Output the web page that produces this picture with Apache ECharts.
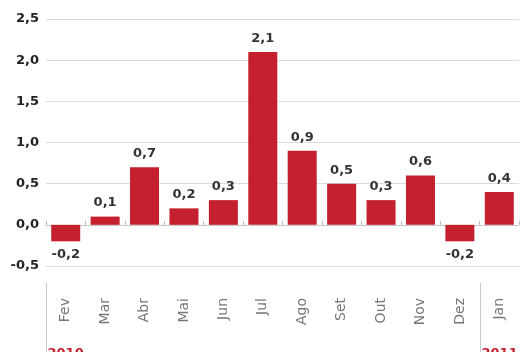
<!DOCTYPE html>
<html lang="pt">
<head>
  <meta charset="UTF-8">
  <title>Variação mensal</title>
  <script src="https://cdn.jsdelivr.net/npm/echarts@6/dist/echarts.min.js"></script>
  <style>
    html, body { margin: 0; padding: 0; background: #fff; }
    #chart { width: 530px; height: 352px; }
  </style>
</head>
<body>
  <div id="chart"></div>
</body>
</html>
<script>
  // dados
  var months = ['Fev', 'Mar', 'Abr', 'Mai', 'Jun', 'Jul', 'Ago', 'Set', 'Out', 'Nov', 'Dez', 'Jan']
  var values = [-0.2, 0.1, 0.7, 0.2, 0.3, 2.1, 0.9, 0.5, 0.3, 0.6, -0.2, 0.4]
  var years = ['2010', '2011']
  var yearStart = [0, 11] // índice do primeiro mês de cada ano

  var red = '#c5202d'
  var font = 'DejaVu Sans, Arial, sans-serif'
  var fmt = function (v) { return v.toFixed(1).replace('.', ',') }

  var chart = echarts.init(document.getElementById('chart'))

  chart.setOption({
    animation: false,
    textStyle: { fontFamily: font },
    grid: { left: 46, right: 11, top: 19, bottom: 86 },
    xAxis: [
      { // linha do zero
        type: 'category',
        position: 'bottom',
        data: months,
        axisLine: { onZero: true, lineStyle: { color: '#c8c8c8' } },
        axisTick: { show: true, inside: true, length: 4, lineStyle: { color: '#bbb' } },
        axisLabel: { show: false }
      },
      { // rótulos dos meses
        type: 'category',
        position: 'bottom',
        offset: 17,
        data: months,
        axisLine: { show: false, onZero: false },
        axisTick: { show: false },
        axisLabel: {
          rotate: 90,
          margin: 15,
          fontSize: 14,
          color: '#777'
        }
      }
    ],
    yAxis: {
      type: 'value',
      min: -0.5,
      max: 2.5,
      interval: 0.5,
      axisLine: { show: false },
      axisTick: { show: false },
      splitLine: { lineStyle: { color: '#dcdcdc' } },
      axisLabel: {
        fontSize: 13,
        fontWeight: 'bold',
        color: '#222',
        margin: 7,
        formatter: fmt
      }
    },
    series: [{
      type: 'bar',
      xAxisIndex: 0,
      barWidth: 29,
      itemStyle: { color: red },
      data: values.map(function (v) {
        return { value: v, label: { position: v < 0 ? 'bottom' : 'top' } }
      }),
      label: {
        show: true,
        distance: 7,
        fontSize: 13,
        fontWeight: 'bold',
        color: '#333',
        formatter: function (p) { return fmt(p.value) }
      }
    }]
  })

  // separadores de ano e rótulos, posicionados pela escala do eixo
  var yBottom = chart.convertToPixel({ yAxisIndex: 0 }, -0.5)
  var band = chart.convertToPixel({ xAxisIndex: 0 }, months[1]) - chart.convertToPixel({ xAxisIndex: 0 }, months[0])
  var graphics = []
  years.forEach(function (yr, k) {
    var x = Math.round(chart.convertToPixel({ xAxisIndex: 0 }, months[yearStart[k]]) - band / 2) + 0.5
    graphics.push({
      type: 'line',
      shape: { x1: x, y1: yBottom + 17, x2: x, y2: yBottom + 100 },
      style: { stroke: '#c8c8c8', lineWidth: 1 }
    })
    graphics.push({
      type: 'text',
      x: x + 1,
      y: yBottom + 81,
      style: { text: yr, fill: red, font: 'bold 13px ' + font }
    })
  })
  chart.setOption({ graphic: graphics })
</script>
